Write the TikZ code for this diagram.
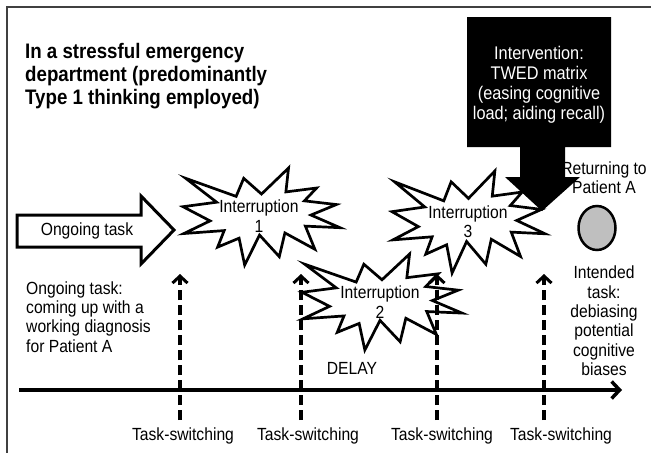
\documentclass[tikz,border=0pt]{standalone}
\usepackage{fontspec}
\setmainfont{Liberation Sans}
\newfontfamily\cf[FakeStretch=0.89]{Liberation Sans}
\usetikzlibrary{arrows.meta,shapes.geometric}
\tikzset{
  txt/.style={font=\cf\fontsize{17.6}{19.4}\selectfont, inner sep=0pt, align=center},
  ttl/.style={font=\cf\fontsize{21}{23}\selectfont\bfseries, inner sep=0pt, align=left},
  sealline/.style={draw=black, line width=2.7pt, fill=white, line join=miter, miter limit=20},
  switcharrow/.style={line width=3.5pt, dash pattern=on 10pt off 5pt, -{Straight Barb[length=7pt,width=15pt,line width=3pt]}},
  timeaxis/.style={line width=4.5pt, -{Straight Barb[length=8pt,width=17pt,line width=3.5pt]}},
  framel/.style={draw=black!75, line width=1.5pt},
  seal/.pic={
    \path[sealline] (50,26.85) -- (67.23,0) -- (65.53,24.65) -- (85.09,20.63) -- (77.32,33.87)
      -- (97.67,37.67) -- (81.51,48.50) -- (100,61.53) -- (77.95,59.92) -- (84.00,83.77)
      -- (64.91,66.93) -- (61.33,91.38) -- (48.76,69.14) -- (39.28,100) -- (35.72,72.35)
      -- (22.05,81.56) -- (26.24,64.52) -- (0.63,67.53) -- (17.23,54.51) -- (0,39.88)
      -- (21.42,35.26) -- (1.71,10.63) -- (33.85,29.26) -- (38.67,10.63) -- cycle;
  }
}
\begin{document}
\begin{tikzpicture}[x=1pt,y=-1pt]
\useasboundingbox (0,0) rectangle (651,453);
% frame
\draw[framel] (651,7) -- (7,7) -- (7,453);

% title
\node[ttl, anchor=west] (title) at (25,76) {In a stressful emergency\\department (predominantly\\Type 1 thinking employed)};

% ongoing task arrow
\draw[line width=3pt, fill=white, line join=miter] (17,215) -- (141,215) -- (141,196) -- (174,230) -- (141,264) -- (141,247) -- (17,247) -- cycle;
\node[txt] (ongoing) at (87,231) {Ongoing task};

% intervention black arrow
\fill[black] (467,17) -- (611,17) -- (611,147) -- (565,147) -- (565,177) -- (580,177) -- (542,211)
  -- (505,177) -- (520,177) -- (520,147) -- (467,147) -- cycle;
\node[txt, text=white, font=\cf\fontsize{18.3}{20}\selectfont] (interv) at (539,85) {Intervention:\\TWED matrix\\(easing cognitive\\load; aiding recall)};

% interruptions
\pic[xscale=1.57, yscale=0.97] at (183,168) {seal};
\node[txt] (int1) at (259,216) {Interruption\\1};
\pic[xscale=1.60, yscale=0.96] at (302,254) {seal};
\node[txt] (int2) at (380,302) {Interruption\\2};
\pic[xscale=1.53, yscale=1.02] at (392,171) {seal};
\node[txt] (int3) at (468,222) {Interruption\\3};

% patient A
\node[txt] (return) at (604,178) {Returning to\\Patient A};
\node[draw=black, line width=2.5pt, fill=black!25, ellipse, minimum width=37pt, minimum height=44pt, inner sep=0pt] (circ) at (597,228) {};
\node[txt] (intended) at (604,321) {Intended\\task:\\debiasing\\potential\\cognitive\\biases};

% left explanation
\node[txt, align=left, anchor=west] (expl) at (26,317) {Ongoing task:\\coming up with a\\working diagnosis\\for Patient A};
\node[txt] (delay) at (352,368) {DELAY};

% time axis
\coordinate (axs) at (19,390);
\coordinate (axe) at (622,390);
\draw[timeaxis] (axs) -- (axe);

% task-switching arrows
\foreach \n/\x/\lx in {a/180/183, b/301/308, c/437/442, d/544/561}{
  \coordinate (s\n b) at (\x,420);
  \coordinate (s\n t) at (\x,274);
  \draw[switcharrow] (s\n b) -- (s\n t);
  \node[txt] (ts\n) at (\lx,436) {Task-switching};
}
\end{tikzpicture}
\end{document}
